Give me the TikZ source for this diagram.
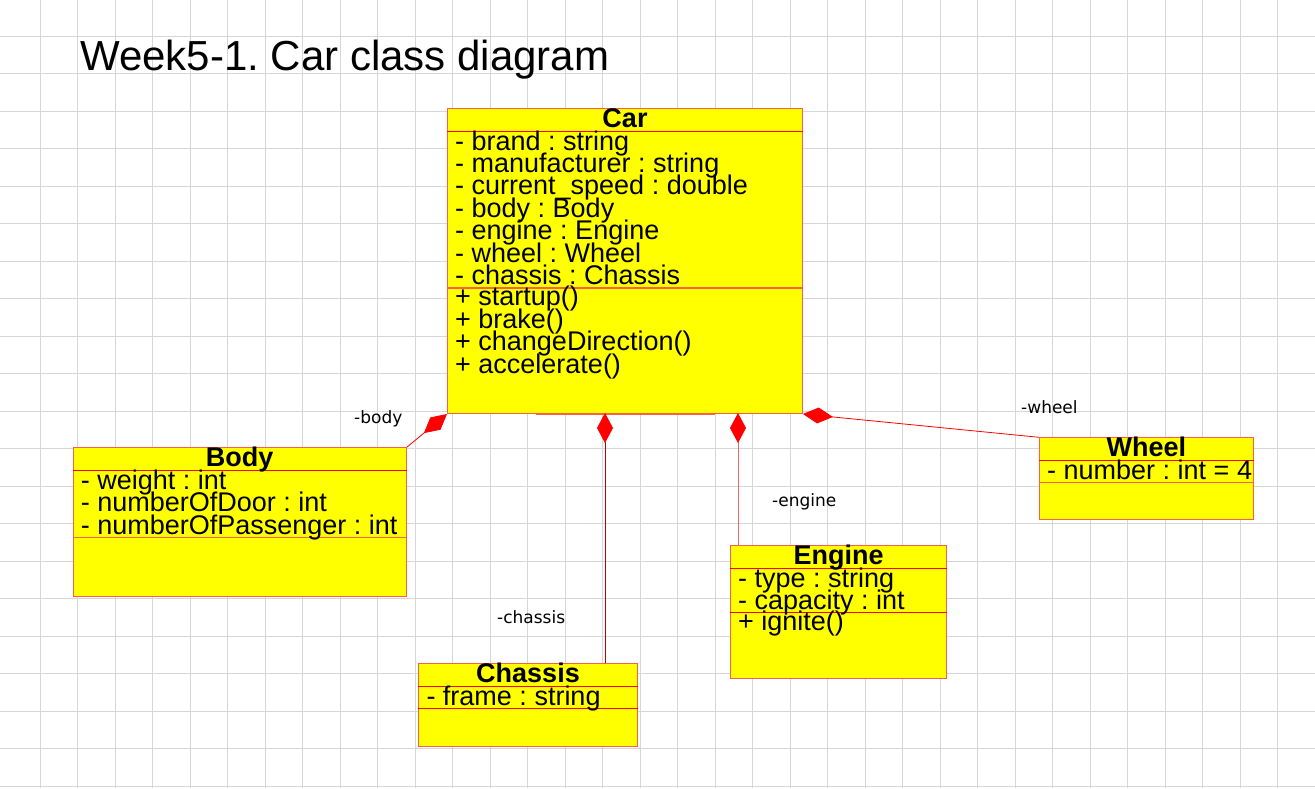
\documentclass[tikz,border=0pt]{standalone}
\usepackage{fontspec}
\setmainfont{Liberation Sans}
\newfontfamily\rolefont{DejaVu Sans}
\usetikzlibrary{arrows.meta,calc}
\definecolor{uml-yellow}{RGB}{255,255,0}
\definecolor{uml-edge}{RGB}{250,96,70}
\definecolor{uml-red}{RGB}{255,0,0}
\definecolor{uml-dark}{RGB}{200,0,0}
\definecolor{uml-pink}{RGB}{240,100,100}
\definecolor{grid-gray}{RGB}{214,214,214}
\lineskiplimit=-100pt
\frenchspacing

\begin{document}
\begin{tikzpicture}[x=1pt, y=-1pt,
    gridline/.style={draw=grid-gray, line width=1pt},
    classbox/.style={rectangle, draw=uml-edge, line width=1pt, fill=uml-yellow, anchor=north west, inner sep=0pt},
    sepline/.style={draw=uml-red, line width=1pt},
    classname/.style={anchor=base, inner sep=0pt, font=\fontsize{27}{22.4}\selectfont\bfseries},
    members/.style={anchor=base west, inner sep=0pt, align=left, font=\fontsize{27}{22.4}\selectfont},
    compline/.style={draw=uml-red, line width=0.8pt, -{Diamond[length=30pt, width=16pt, color=uml-red, fill=uml-red]}},
    rolelabel/.style={anchor=base west, inner sep=0pt, font=\rolefont\fontsize{17}{20}\selectfont}]

    % Background and grid
    \fill[white] (0,0) rectangle (1315,788);
    \useasboundingbox (0,0) rectangle (1315,788);
    \foreach \i in {0,...,33} \draw[gridline] (40+37.5*\i,0) -- (40+37.5*\i,788);
    \foreach \j in {0,...,20} \draw[gridline] (0,36+37.5*\j) -- (1315,36+37.5*\j);

    % Title
    \node[anchor=base west, inner sep=0pt, font=\fontsize{42}{48}\selectfont] (title) at (80,70) {Week5-1. Car class diagram};

    % Car (member nodes sit on their last baseline)
    \node[classbox, minimum width=355pt, minimum height=305pt] (car) at (447,108) {};
    \draw[sepline] ([yshift=-23pt]car.north west) -- ([yshift=-23pt]car.north east);
    \draw[sepline, draw=uml-edge, line width=1.5pt] ([yshift=-179.8pt]car.north west) -- ([yshift=-179.8pt]car.north east);
    \node[classname] (car-name) at ([yshift=-19pt]car.north) {Car};
    \node[members] (car-attr) at ([shift={(8pt,-176.4pt)}]car.north west) {- brand : string\\- manufacturer : string\\- current\_speed : double\\- body : Body\\- engine : Engine\\- wheel : Wheel\\- chassis : Chassis};
    \node[members] (car-ops) at ([shift={(8pt,-265pt)}]car.north west) {+ startup()\\+ brake()\\+ changeDirection()\\+ accelerate()};
    \draw[uml-edge, line width=1.5pt] (536,414.5) -- (715,414.5);

    % Body
    \node[classbox, minimum width=333pt, minimum height=148.7pt] (body) at (72.7,447.3) {};
    \draw[sepline] ([yshift=-23pt]body.north west) -- ([yshift=-23pt]body.north east);
    \draw[sepline, draw=uml-edge, line width=1.5pt] ([yshift=-90.2pt]body.north west) -- ([yshift=-90.2pt]body.north east);
    \node[classname] (body-name) at ([yshift=-19pt]body.north) {Body};
    \node[members] (body-attr) at ([shift={(8pt,-86.8pt)}]body.north west) {- weight : int\\- numberOfDoor : int\\- numberOfPassenger : int};

    % Wheel
    \node[classbox, minimum width=213.7pt, minimum height=81.7pt] (wheel) at (1039,437.3) {};
    \draw[sepline] ([yshift=-23pt]wheel.north west) -- ([yshift=-23pt]wheel.north east);
    \draw[sepline, draw=uml-edge] ([yshift=-45.4pt]wheel.north west) -- ([yshift=-45.4pt]wheel.north east);
    \node[classname] (wheel-name) at ([yshift=-19pt]wheel.north) {Wheel};
    \node[members] (wheel-attr) at ([shift={(8pt,-42pt)}]wheel.north west) {- number : int = 4};

    % Engine
    \node[classbox, minimum width=216pt, minimum height=133.3pt] (engine) at (730,545) {};
    \draw[sepline] ([yshift=-23pt]engine.north west) -- ([yshift=-23pt]engine.north east);
    \draw[sepline] ([yshift=-67.8pt]engine.north west) -- ([yshift=-67.8pt]engine.north east);
    \node[classname] (engine-name) at ([yshift=-19pt]engine.north) {Engine};
    \node[members] (engine-attr) at ([shift={(8pt,-64.4pt)}]engine.north west) {- type : string\\- capacity : int};
    \node[members] (engine-ops) at ([shift={(8pt,-85.8pt)}]engine.north west) {+ ignite()};

    % Chassis
    \node[classbox, minimum width=218.4pt, minimum height=82.4pt] (chassis) at (418.3,663.3) {};
    \draw[sepline] ([yshift=-23pt]chassis.north west) -- ([yshift=-23pt]chassis.north east);
    \draw[sepline] ([yshift=-45.4pt]chassis.north west) -- ([yshift=-45.4pt]chassis.north east);
    \node[classname] (chassis-name) at ([yshift=-19pt]chassis.north) {Chassis};
    \node[members] (chassis-attr) at ([shift={(8pt,-42pt)}]chassis.north west) {- frame : string};

    % Compositions
    \coordinate (chassis-end) at (605,413);
    \coordinate (engine-end) at (738,413);
    \draw[compline] (body.north east) -- (car.south west);
    \draw[compline, draw=uml-dark] (chassis-end |- chassis.north) -- (chassis-end);
    \draw[compline, draw=uml-pink] (engine-end |- engine.north) -- (engine-end);
    \draw[compline] (wheel.north west) -- (car.south east);

    % Role names
    \node[rolelabel] (role-body) at (354,423) {-body};
    \node[rolelabel] (role-wheel) at (1021,413) {-wheel};
    \node[rolelabel] (role-engine) at (772,506.5) {-engine};
    \node[rolelabel] (role-chassis) at (497,623) {-chassis};
\end{tikzpicture}
\end{document}
